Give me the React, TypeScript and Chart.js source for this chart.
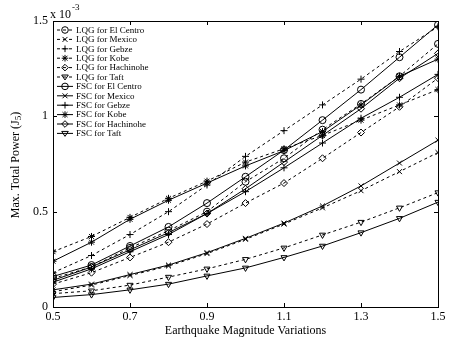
import React, { useEffect, useRef } from 'react';
import { Chart, registerables } from 'chart.js';

Chart.register(...registerables);

// Earthquake magnitude variations (x)
const magnitudes = [0.5, 0.6, 0.7, 0.8, 0.9, 1.0, 1.1, 1.2, 1.3, 1.4, 1.5];
const xTickValues = [0.5, 0.7, 0.9, 1.1, 1.3, 1.5];
const yTickValues = [0, 0.5, 1, 1.5];

// Max total power J5, in units of 1e-3
const lqgElCentro = [0.15, 0.21, 0.31, 0.40, 0.50, 0.657, 0.78, 0.93, 1.065, 1.21, 1.38];
const lqgMexico = [0.08, 0.115, 0.165, 0.215, 0.28, 0.355, 0.435, 0.52, 0.61, 0.71, 0.81];
const lqgGebze = [0.18, 0.27, 0.38, 0.50, 0.64, 0.79, 0.925, 1.06, 1.195, 1.34, 1.47];
const lqgKobe = [0.29, 0.37, 0.47, 0.57, 0.66, 0.76, 0.83, 0.90, 0.98, 1.06, 1.14];
const lqgHachinohe = [0.12, 0.18, 0.26, 0.34, 0.435, 0.545, 0.65, 0.78, 0.915, 1.05, 1.20];
const lqgTaft = [0.07, 0.085, 0.115, 0.157, 0.20, 0.25, 0.31, 0.378, 0.445, 0.52, 0.60];
const fscElCentro = [0.16, 0.22, 0.32, 0.42, 0.545, 0.683, 0.823, 0.98, 1.14, 1.31, 1.48];
const fscMexico = [0.09, 0.12, 0.17, 0.22, 0.285, 0.36, 0.44, 0.53, 0.635, 0.755, 0.875];
const fscGebze = [0.13, 0.20, 0.29, 0.38, 0.49, 0.605, 0.73, 0.86, 0.99, 1.10, 1.22];
const fscKobe = [0.24, 0.34, 0.46, 0.56, 0.65, 0.74, 0.82, 0.92, 1.06, 1.21, 1.30];
const fscHachinohe = [0.14, 0.21, 0.30, 0.39, 0.49, 0.62, 0.76, 0.90, 1.04, 1.20, 1.33];
const fscTaft = [0.05, 0.065, 0.09, 0.12, 0.163, 0.205, 0.26, 0.32, 0.39, 0.465, 0.55];

const seriesLabels = [
  'LQG for El Centro', 'LQG for Mexico', 'LQG for Gebze', 'LQG for Kobe', 'LQG for Hachinohe', 'LQG for Taft',
  'FSC for El Centro', 'FSC for Mexico', 'FSC for Gebze', 'FSC for Kobe', 'FSC for Hachinohe', 'FSC for Taft',
];
const seriesValues = [
  lqgElCentro, lqgMexico, lqgGebze, lqgKobe, lqgHachinohe, lqgTaft,
  fscElCentro, fscMexico, fscGebze, fscKobe, fscHachinohe, fscTaft,
];
const seriesMarkers = [
  'circle', 'crossRot', 'cross', 'star', 'rectRot', 'triangle',
  'circle', 'crossRot', 'cross', 'star', 'rectRot', 'triangle',
];

const FONT = "'Liberation Serif', 'Times New Roman', serif";
const DASH = [3, 3];

function drawMarker(ctx: CanvasRenderingContext2D, style: string, x: number, y: number, r: number) {
  ctx.save();
  ctx.setLineDash([]);
  ctx.beginPath();
  if (style === 'circle') {
    ctx.arc(x, y, r, 0, Math.PI * 2);
  } else if (style === 'cross') {
    ctx.moveTo(x - r, y); ctx.lineTo(x + r, y);
    ctx.moveTo(x, y - r); ctx.lineTo(x, y + r);
  } else if (style === 'crossRot') {
    const d = r * 0.75;
    ctx.moveTo(x - d, y - d); ctx.lineTo(x + d, y + d);
    ctx.moveTo(x - d, y + d); ctx.lineTo(x + d, y - d);
  } else if (style === 'star') {
    const d = r * 0.75;
    ctx.moveTo(x - r, y); ctx.lineTo(x + r, y);
    ctx.moveTo(x, y - r); ctx.lineTo(x, y + r);
    ctx.moveTo(x - d, y - d); ctx.lineTo(x + d, y + d);
    ctx.moveTo(x - d, y + d); ctx.lineTo(x + d, y - d);
  } else if (style === 'rectRot') {
    ctx.moveTo(x, y - r); ctx.lineTo(x + r, y); ctx.lineTo(x, y + r); ctx.lineTo(x - r, y); ctx.closePath();
  } else if (style === 'triangle') {
    ctx.moveTo(x - r, y - r * 0.6); ctx.lineTo(x + r, y - r * 0.6); ctx.lineTo(x, y + r * 0.9); ctx.closePath();
  }
  ctx.stroke();
  ctx.restore();
}

const framePlugin = {
  id: 'framePlugin',
  afterDraw(chart: any) {
    const { ctx, chartArea } = chart;
    const { left, right, top, bottom } = chartArea;
    const xs = chart.scales.x;
    const ys = chart.scales.y;
    ctx.save();
    ctx.strokeStyle = '#000';
    ctx.lineWidth = 1;
    ctx.setLineDash([]);
    ctx.strokeRect(Math.round(left) + 0.5, Math.round(top) + 0.5, Math.round(right - left), Math.round(bottom - top));
    // inward ticks
    ctx.beginPath();
    xTickValues.forEach((v) => {
      const px = Math.round(xs.getPixelForValue(v)) + 0.5;
      ctx.moveTo(px, bottom); ctx.lineTo(px, bottom - 4);
      ctx.moveTo(px, top); ctx.lineTo(px, top + 4);
    });
    yTickValues.forEach((v) => {
      const py = Math.round(ys.getPixelForValue(v)) + 0.5;
      ctx.moveTo(left, py); ctx.lineTo(left + 4, py);
      ctx.moveTo(right, py); ctx.lineTo(right - 4, py);
    });
    ctx.stroke();

    // legend
    ctx.fillStyle = '#000';
    ctx.font = `9px ${FONT}`;
    ctx.textBaseline = 'middle';
    ctx.textAlign = 'left';
    chart.data.datasets.forEach((ds: any, i: number) => {
      const y = 30 + i * 9.4;
      ctx.save();
      ctx.setLineDash(ds.borderDash || []);
      ctx.beginPath();
      ctx.moveTo(57, y); ctx.lineTo(73, y);
      ctx.stroke();
      ctx.restore();
      drawMarker(ctx, ds.pointStyle, 65, y, 3.3);
      ctx.fillText(ds.label, 76, y + 0.5);
    });

    // exponent
    ctx.textBaseline = 'alphabetic';
    ctx.font = `12px ${FONT}`;
    ctx.fillText('x 10', 50, 18);
    const w = ctx.measureText('x 10').width;
    ctx.font = `9px ${FONT}`;
    ctx.fillText('-3', 50 + w + 1, 10);

    // y title with subscript
    ctx.translate(16, 165);
    ctx.rotate(-Math.PI / 2);
    ctx.font = `12px ${FONT}`;
    const main = 'Max. Total Power (J';
    const mw = ctx.measureText(main).width;
    ctx.font = `9px ${FONT}`;
    const sw = ctx.measureText('5').width;
    ctx.font = `12px ${FONT}`;
    const cw = ctx.measureText(')').width;
    let x0 = -(mw + sw + cw) / 2;
    ctx.textBaseline = 'middle';
    ctx.fillText(main, x0, 0);
    ctx.font = `9px ${FONT}`;
    ctx.fillText('5', x0 + mw, 3);
    ctx.font = `12px ${FONT}`;
    ctx.fillText(')', x0 + mw + sw, 0);
    ctx.restore();
  },
};

export default function App() {
  const canvasRef = useRef<HTMLCanvasElement | null>(null);

  useEffect(() => {
    if (!canvasRef.current) return;
    const datasets = seriesValues.map((vals, i) => ({
      label: seriesLabels[i],
      data: magnitudes.map((m, j) => ({ x: m, y: vals[j] })),
      borderColor: '#000',
      borderWidth: 1,
      borderDash: i < 6 ? DASH : [],
      pointStyle: seriesMarkers[i],
      pointRotation: seriesMarkers[i] === 'triangle' ? 180 : 0,
      pointRadius: 3.5,
      pointBorderWidth: 1,
      pointBorderColor: '#000',
      pointBackgroundColor: 'rgba(0,0,0,0)',
      fill: false,
      tension: 0,
    }));

    const chart = new Chart(canvasRef.current, {
      type: 'line',
      data: { datasets },
      options: {
        responsive: false,
        animation: false,
        layout: { padding: { top: 21, right: 20, left: 0, bottom: 0 } },
        plugins: { legend: { display: false }, tooltip: { enabled: false } },
        scales: {
          x: {
            type: 'linear',
            min: 0.5,
            max: 1.5,
            afterBuildTicks: (scale: any) => { scale.ticks = xTickValues.map((v) => ({ value: v })); },
            afterFit: (scale: any) => { scale.height = 33; },
            grid: { display: false, drawTicks: false },
            border: { display: false },
            ticks: {
              padding: 3,
              color: '#000',
              font: { family: FONT, size: 12 },
              maxRotation: 0,
              autoSkip: false,
              callback: (v: any) => Number(v).toFixed(1),
            },
            title: {
              display: true,
              text: 'Earthquake Magnitude Variations',
              color: '#000',
              font: { family: FONT, size: 12 },
              padding: { top: 0, bottom: 2 },
            },
          },
          y: {
            type: 'linear',
            min: 0,
            max: 1.5,
            afterBuildTicks: (scale: any) => { scale.ticks = yTickValues.map((v) => ({ value: v })); },
            afterFit: (scale: any) => { scale.width = 53; },
            grid: { display: false, drawTicks: false },
            border: { display: false },
            ticks: {
              padding: 5,
              color: '#000',
              font: { family: FONT, size: 12 },
              callback: (v: any) => String(v),
            },
          },
        },
      },
      plugins: [framePlugin],
    });
    return () => chart.destroy();
  }, []);

  return (
    <div style={{ position: 'absolute', left: 0, top: 0, width: 458, height: 340, background: '#fff' }}>
      <canvas ref={canvasRef} width={458} height={340} />
    </div>
  );
}
